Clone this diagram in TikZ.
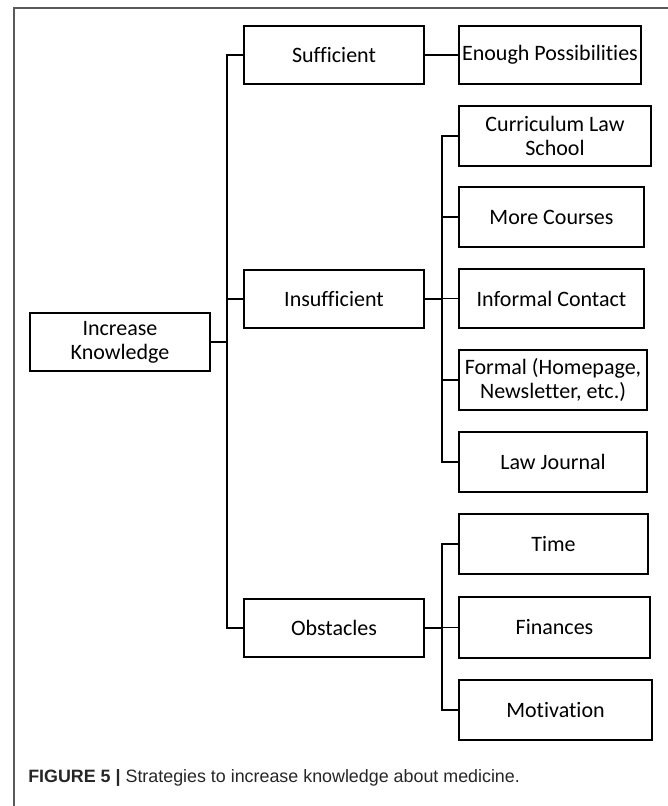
\documentclass[tikz,border=0pt]{standalone}
\usepackage{fontspec}
\setmainfont{Carlito}[Ligatures=NoCommon]
\newfontfamily\capfont{Liberation Sans}
\begin{document}
\begin{tikzpicture}[x=0.75pt,y=-0.75pt,
  box/.style={draw=black, line width=1.6pt, fill=white, minimum height=43.5pt, inner sep=1pt, align=center, font=\fontsize{16.5}{18}\selectfont},
  link/.style={draw=black, line width=1.2pt}]
\useasboundingbox (0,0) rectangle (667,806);
\draw[line width=0.8pt, draw=black!65] (14,810) -- (14,8) -- (672,8);
% level 0
\node[box, minimum width=135pt] (ik) at (120,342) {Increase\\Knowledge};
% level 1
\node[box, minimum width=135pt] (suf) at (334,55) {Sufficient};
\node[box, minimum width=135pt] (ins) at (334,299) {Insufficient};
\node[box, minimum width=135pt] (obs) at (334,628) {Obstacles};
% level 2
\node[box, minimum width=136.5pt, inner sep=0.5pt] (eno) at (550,55) {Enough Possibilities};
\node[box, minimum width=144pt, minimum height=45pt] (cur) at (555,136) {Curriculum Law\\School};
\node[box, minimum width=138.75pt, minimum height=45pt] (mor) at (551.5,217) {More Courses};
\node[box, minimum width=138.75pt, minimum height=44.25pt] (inf) at (551.5,298.5) {Informal Contact};
\node[box, minimum width=141pt, minimum height=45pt] (for) at (553,380) {Formal (Homepage,\\Newsletter, etc.)};
\node[box, minimum width=141pt, minimum height=45pt] (law) at (553,462) {Law Journal};
\node[box, minimum width=141.75pt, minimum height=45pt] (tim) at (553.5,544) {Time};
\node[box, minimum width=143.25pt, minimum height=45.75pt] (fin) at (554.5,627.5) {Finances};
\node[box, minimum width=144.75pt, minimum height=45pt] (mot) at (555.5,710) {Motivation};
% junctions
\coordinate (j1) at (227,342);
\coordinate (j2) at (442,299);
\coordinate (j3) at (442,628);
% connectors level 0 -> 1
\draw[link] (ik.east) -- (j1);
\draw[link] (suf.west) -| (j1);
\draw[link] (obs.west) -| (j1);
\draw[link] (ins.west) -- (ins.west -| j1);
% Sufficient -> Enough
\draw[link] (suf.east) -- (eno.west);
% Insufficient branch
\draw[link] (ins.east) -- (j2);
\draw[link] (cur.west) -| (j2);
\draw[link] (law.west) -| (j2);
\draw[link] (mor.west) -- (mor.west -| j2);
\draw[link] (inf.west) -- (inf.west -| j2);
\draw[link] (for.west) -- (for.west -| j2);
% Obstacles branch
\draw[link] (obs.east) -- (j3);
\draw[link] (tim.west) -| (j3);
\draw[link] (mot.west) -| (j3);
\draw[link] (fin.west) -- (fin.west -| j3);
% caption
\node[anchor=base west, inner sep=0pt, text=black!85, font=\capfont\fontsize{13.4}{16}\selectfont] (cap) at (28,782) {\textbf{FIGURE 5 |} Strategies to increase knowledge about medicine.};
\end{tikzpicture}
\end{document}
